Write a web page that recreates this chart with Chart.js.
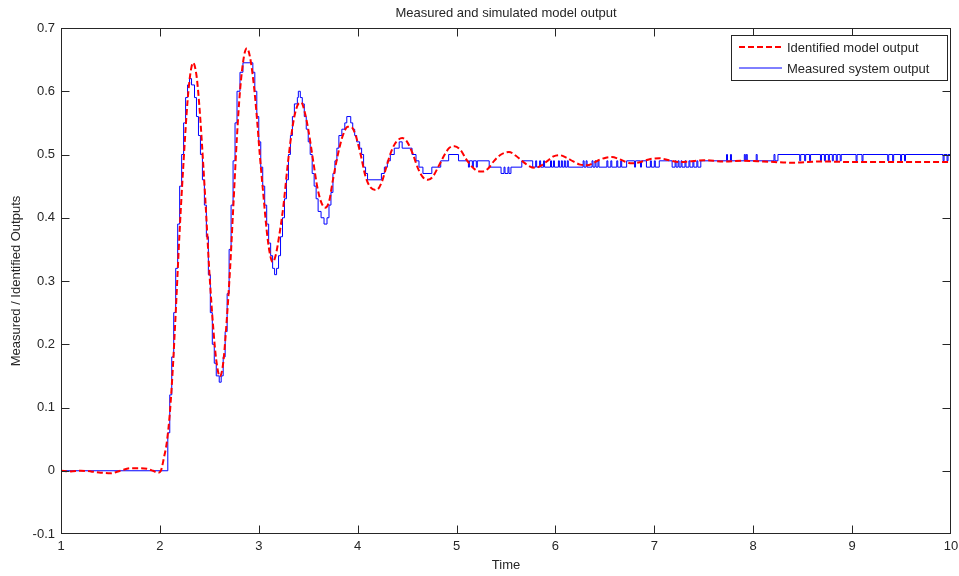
<!DOCTYPE html>
<html>
<head>
<meta charset="utf-8">
<script src="https://cdn.jsdelivr.net/npm/chart.js@4.4.0/dist/chart.umd.min.js"></script>
<style>
  html, body { margin: 0; padding: 0; background: #fff; }
</style>
</head>
<body>
<canvas id="chart" width="959" height="576"></canvas>
<script>
// ---- data ----
const xTicks = [1, 2, 3, 4, 5, 6, 7, 8, 9, 10];
const xTickLabels = ['1', '2', '3', '4', '5', '6', '7', '8', '9', '10'];
const yTicks = [-0.1, 0, 0.1, 0.2, 0.3, 0.4, 0.5, 0.6, 0.7];
const yTickLabels = ['-0.1', '0', '0.1', '0.2', '0.3', '0.4', '0.5', '0.6', '0.7'];

// identified model output (smooth, red dashed)
const modelT = [1.00, 1.10, 1.20, 1.30, 1.40, 1.50, 1.60, 1.70, 1.80, 1.87, 1.93, 1.98, 2.01, 2.04, 2.07,
  2.10, 2.13, 2.16, 2.20, 2.24, 2.28, 2.31, 2.336, 2.37, 2.40, 2.44, 2.47, 2.50, 2.54, 2.57, 2.606,
  2.64, 2.67, 2.71, 2.74, 2.78, 2.81, 2.85, 2.88, 2.91, 2.95, 2.98, 3.01, 3.05, 3.08, 3.11, 3.14,
  3.17, 3.21, 3.25, 3.29, 3.32, 3.36, 3.40, 3.43, 3.46, 3.50, 3.55, 3.59, 3.63, 3.67, 3.71, 3.75,
  3.80, 3.85, 3.90, 3.94, 3.98, 4.03, 4.08, 4.13, 4.19, 4.24, 4.29, 4.34, 4.39, 4.45, 4.50, 4.56,
  4.61, 4.66, 4.71, 4.76, 4.82, 4.88, 4.93, 4.98, 5.04, 5.10, 5.16, 5.21, 5.26, 5.32, 5.38, 5.45,
  5.53, 5.60, 5.66, 5.73, 5.79, 5.86, 5.92, 5.98, 6.04, 6.11, 6.18, 6.25, 6.32, 6.39, 6.45, 6.51,
  6.57, 6.64, 6.70, 6.77, 6.83, 6.90, 6.96, 7.05, 7.15, 7.25, 7.35, 7.50, 7.70, 7.90, 8.10, 8.40,
  8.70, 9.00, 9.50, 10.00];
const modelY = [0.000, -0.001, 0.000, -0.001, -0.003, -0.004, 0.000, 0.004, 0.004, 0.003, 0.000, -0.003, 0.000, 0.020, 0.045,
  0.090, 0.160, 0.250, 0.380, 0.490, 0.585, 0.630, 0.645, 0.625, 0.575, 0.480, 0.400, 0.315, 0.225, 0.175, 0.149,
  0.170, 0.225, 0.320, 0.410, 0.530, 0.600, 0.655, 0.668, 0.655, 0.610, 0.560, 0.500, 0.430, 0.380, 0.345, 0.330,
  0.340, 0.375, 0.420, 0.480, 0.520, 0.560, 0.580, 0.582, 0.570, 0.540, 0.490, 0.450, 0.425, 0.416, 0.425, 0.460,
  0.500, 0.530, 0.544, 0.543, 0.530, 0.500, 0.465, 0.448, 0.444, 0.455, 0.480, 0.505, 0.520, 0.526, 0.520, 0.500,
  0.478, 0.464, 0.460, 0.465, 0.482, 0.500, 0.511, 0.513, 0.507, 0.492, 0.480, 0.474, 0.473, 0.478, 0.490, 0.500,
  0.504, 0.498, 0.490, 0.482, 0.479, 0.483, 0.490, 0.497, 0.499, 0.495, 0.489, 0.484, 0.483, 0.487, 0.492, 0.495,
  0.496, 0.493, 0.489, 0.486, 0.487, 0.490, 0.493, 0.494, 0.491, 0.488, 0.489, 0.491, 0.489, 0.490, 0.489, 0.487,
  0.489, 0.488, 0.488, 0.488];

// measured system output (quantised, blue steps): value changes to measY[i] at measT[i]
const measT = [1.00, 2.08, 2.10, 2.12, 2.14, 2.16, 2.18, 2.20, 2.22, 2.24, 2.26, 2.28, 2.30, 2.32, 2.35,
  2.37, 2.39, 2.41, 2.43, 2.45, 2.47, 2.49, 2.51, 2.53, 2.55, 2.57, 2.60, 2.62, 2.64, 2.66, 2.68,
  2.70, 2.72, 2.74, 2.76, 2.78, 2.81, 2.84, 2.94, 2.96, 2.98, 3.00, 3.02, 3.04, 3.06, 3.08, 3.10,
  3.12, 3.14, 3.16, 3.18, 3.20, 3.22, 3.24, 3.26, 3.28, 3.30, 3.32, 3.34, 3.36, 3.39, 3.40, 3.42,
  3.44, 3.46, 3.48, 3.50, 3.52, 3.54, 3.56, 3.58, 3.60, 3.63, 3.66, 3.69, 3.71, 3.73, 3.75, 3.77,
  3.79, 3.81, 3.84, 3.87, 3.89, 3.93, 3.95, 3.97, 3.99, 4.02, 4.04, 4.06, 4.08, 4.10, 4.24, 4.27,
  4.30, 4.33, 4.37, 4.42, 4.45, 4.55, 4.59, 4.62, 4.66, 4.75, 4.84, 4.92, 5.02,
  5.12, 5.13, 5.16, 5.17, 5.20, 5.21, 5.33, 5.45, 5.48, 5.49, 5.52, 5.53, 5.55, 5.66, 5.77,
  5.80, 5.81, 5.84, 5.85, 5.88, 5.89, 5.95, 5.96, 5.98, 5.99, 6.03, 6.04, 6.06, 6.07, 6.09, 6.10,
  6.12, 6.13, 6.28, 6.29, 6.31, 6.32, 6.37, 6.38, 6.40, 6.41, 6.43, 6.44, 6.52, 6.53, 6.56, 6.57,
  6.62, 6.63, 6.66, 6.67, 6.72, 6.80, 6.81, 6.86, 6.87, 6.92, 6.96, 6.97, 7.00, 7.01, 7.05, 7.18,
  7.21, 7.22, 7.24, 7.25, 7.27, 7.28, 7.31, 7.32, 7.35, 7.36, 7.39, 7.40, 7.43, 7.44, 7.47,
  7.73, 7.74, 7.77, 7.78, 7.91, 7.92, 7.93, 7.94, 8.03, 8.04, 8.21, 8.22, 8.25,
  8.47, 8.48, 8.52, 8.53, 8.57, 8.58, 8.68, 8.69, 8.72, 8.73, 8.76, 8.77, 8.80, 8.81, 8.84, 8.85,
  8.88, 8.89, 9.04, 9.05, 9.10, 9.11, 9.36, 9.37, 9.41, 9.42, 9.49, 9.50, 9.53, 9.54, 9.92, 9.93,
  9.96, 9.97, 10.00];
const measY = [0.000, 0.060, 0.120, 0.180, 0.250, 0.320, 0.390, 0.450, 0.500, 0.550, 0.590, 0.610, 0.620, 0.610, 0.590,
  0.560, 0.530, 0.500, 0.460, 0.420, 0.370, 0.310, 0.250, 0.200, 0.170, 0.150, 0.140, 0.150, 0.180, 0.220, 0.280,
  0.350, 0.420, 0.490, 0.550, 0.600, 0.630, 0.645, 0.630, 0.600, 0.560, 0.520, 0.480, 0.450, 0.420, 0.390, 0.360,
  0.340, 0.320, 0.310, 0.320, 0.340, 0.370, 0.400, 0.430, 0.460, 0.500, 0.530, 0.560, 0.580, 0.590, 0.600, 0.590,
  0.580, 0.560, 0.540, 0.520, 0.500, 0.470, 0.450, 0.430, 0.410, 0.400, 0.390, 0.400, 0.420, 0.440, 0.470, 0.490,
  0.510, 0.530, 0.540, 0.550, 0.560, 0.550, 0.540, 0.530, 0.520, 0.510, 0.500, 0.480, 0.470, 0.460, 0.470, 0.480,
  0.490, 0.500, 0.510, 0.520, 0.510, 0.500, 0.490, 0.480, 0.470, 0.480, 0.490, 0.500, 0.490,
  0.480, 0.490, 0.480, 0.490, 0.480, 0.490, 0.480, 0.470, 0.480, 0.470, 0.480, 0.470, 0.480, 0.490, 0.480,
  0.490, 0.480, 0.490, 0.480, 0.490, 0.480, 0.490, 0.480, 0.490, 0.480, 0.490, 0.480, 0.490, 0.480, 0.490, 0.480,
  0.490, 0.480, 0.490, 0.480, 0.490, 0.480, 0.490, 0.480, 0.490, 0.480, 0.490, 0.480, 0.490, 0.480, 0.490, 0.480,
  0.490, 0.480, 0.490, 0.480, 0.490, 0.480, 0.490, 0.480, 0.490, 0.480, 0.490, 0.480, 0.490, 0.480, 0.490, 0.480,
  0.490, 0.480, 0.490, 0.480, 0.490, 0.480, 0.490, 0.480, 0.490, 0.480, 0.490, 0.480, 0.490, 0.480, 0.490,
  0.500, 0.490, 0.500, 0.490, 0.500, 0.490, 0.500, 0.490, 0.500, 0.490, 0.500, 0.490, 0.500,
  0.490, 0.500, 0.490, 0.500, 0.490, 0.500, 0.490, 0.500, 0.490, 0.500, 0.490, 0.500, 0.490, 0.500, 0.490, 0.500,
  0.490, 0.500, 0.490, 0.500, 0.490, 0.500, 0.490, 0.500, 0.490, 0.500, 0.490, 0.500, 0.490, 0.500, 0.490, 0.500,
  0.490, 0.500, 0.500];

const seriesLabels = ['Identified model output', 'Measured system output'];

// ---- look ----
const axisColor = '#262626';
const textFont = '"Liberation Sans", Arial, sans-serif';

// box round the plot, ticks pointing inwards on all four sides
const framePlugin = {
  id: 'frame',
  afterDraw(chart) {
    const { ctx, chartArea: a, scales: { x, y } } = chart;
    const L = Math.round(a.left) + 0.5, R = Math.round(a.right) - 0.5;
    const T = Math.round(a.top) + 0.5, B = Math.round(a.bottom) - 0.5;
    const tl = 8;
    const clamp = (v, lo, hi) => Math.min(Math.max(v, lo), hi);
    ctx.save();
    ctx.strokeStyle = axisColor;
    ctx.lineWidth = 1;
    ctx.strokeRect(L, T, R - L, B - T);
    ctx.beginPath();
    xTicks.forEach(v => {
      const px = clamp(Math.round(x.getPixelForValue(v)) + 0.5, L, R);
      ctx.moveTo(px, B); ctx.lineTo(px, B - tl);
      ctx.moveTo(px, T); ctx.lineTo(px, T + tl);
    });
    yTicks.forEach(v => {
      const py = clamp(Math.round(y.getPixelForValue(v)) + 0.5, T, B);
      ctx.moveTo(L, py); ctx.lineTo(L + tl, py);
      ctx.moveTo(R, py); ctx.lineTo(R - tl, py);
    });
    ctx.stroke();
    ctx.restore();
  }
};

// legend box in the top right corner
const legendPlugin = {
  id: 'boxLegend',
  afterDraw(chart) {
    const { ctx } = chart;
    ctx.save();
    ctx.fillStyle = '#fff';
    ctx.fillRect(731.5, 35.5, 216, 45);
    ctx.strokeStyle = axisColor;
    ctx.lineWidth = 1;
    ctx.strokeRect(731.5, 35.5, 216, 45);

    const ds = chart.data.datasets;
    const rows = [47, 68];
    ds.forEach((d, i) => {
      ctx.beginPath();
      ctx.strokeStyle = d.borderColor;
      ctx.lineWidth = d.borderWidth;
      ctx.setLineDash(d.borderDash || []);
      ctx.moveTo(739, rows[i]);
      ctx.lineTo(782, rows[i]);
      ctx.stroke();
      ctx.setLineDash([]);
      ctx.fillStyle = axisColor;
      ctx.font = '13px ' + textFont;
      ctx.textBaseline = 'middle';
      ctx.fillText(d.label, 787, rows[i] + 1);
    });
    ctx.restore();
  }
};

new Chart(document.getElementById('chart'), {
  type: 'line',
  data: {
    datasets: [
      {
        label: seriesLabels[0],
        data: modelT.map((t, i) => ({ x: t, y: modelY[i] })),
        borderColor: '#ff0000',
        borderWidth: 2,
        borderDash: [6, 3],
        cubicInterpolationMode: 'monotone',
        pointRadius: 0,
        fill: false
      },
      {
        label: seriesLabels[1],
        data: measT.map((t, i) => ({ x: t, y: measY[i] })),
        borderColor: '#0000ff',
        borderWidth: 1,
        stepped: 'before',
        pointRadius: 0,
        fill: false
      }
    ]
  },
  options: {
    responsive: false,
    animation: false,
    layout: { padding: { top: 0, right: 8, bottom: 0, left: 0 } },
    plugins: {
      legend: { display: false },
      tooltip: { enabled: false },
      title: {
        display: true,
        fullSize: false,
        text: 'Measured and simulated model output',
        color: axisColor,
        font: { family: textFont, size: 13, weight: 'normal' },
        padding: { top: 6, bottom: 6.4 }
      }
    },
    scales: {
      x: {
        type: 'linear',
        min: 1,
        max: 10,
        afterBuildTicks: s => { s.ticks = xTicks.map(v => ({ value: v })); },
        afterFit: s => { s.height = 42; s.paddingLeft = 0; s.paddingRight = 0; },
        grid: { display: false, drawTicks: false },
        border: { display: false },
        ticks: {
          padding: 5,
          color: axisColor,
          font: { family: textFont, size: 13 },
          maxRotation: 0,
          callback: (v, i) => xTickLabels[i]
        },
        title: {
          display: true,
          text: 'Time',
          color: axisColor,
          font: { family: textFont, size: 13 },
          padding: { top: 0, bottom: 3 }
        }
      },
      y: {
        type: 'linear',
        min: -0.1,
        max: 0.7,
        afterBuildTicks: s => { s.ticks = yTicks.map(v => ({ value: v })); },
        afterFit: s => { s.width = 61; },
        grid: { display: false, drawTicks: false },
        border: { display: false },
        ticks: {
          padding: 6,
          color: axisColor,
          font: { family: textFont, size: 13 },
          callback: (v, i) => yTickLabels[i]
        },
        title: {
          display: true,
          text: 'Measured / Identified Outputs',
          color: axisColor,
          font: { family: textFont, size: 13 },
          padding: { top: 9, bottom: 0 }
        }
      }
    }
  },
  plugins: [framePlugin, legendPlugin]
});
</script>
</body>
</html>
